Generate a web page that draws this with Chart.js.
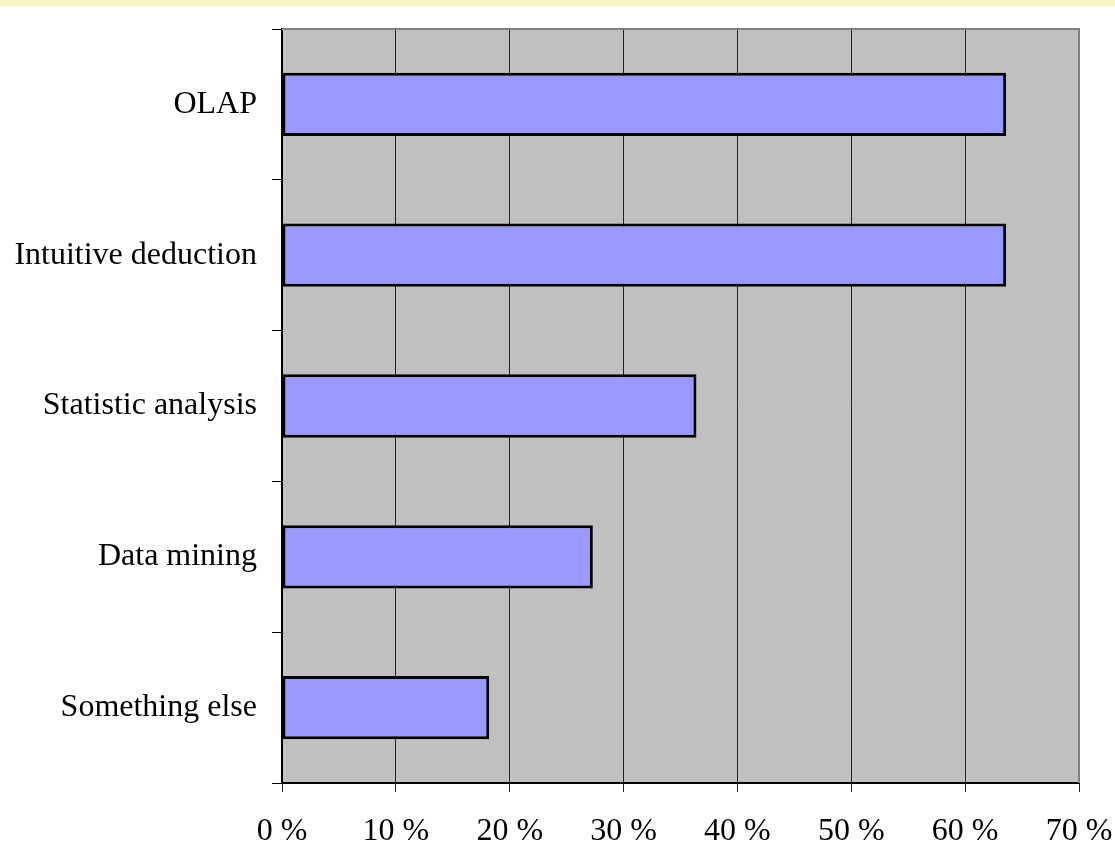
<!DOCTYPE html>
<html>
<head>
<meta charset="utf-8">
<script src="https://cdn.jsdelivr.net/npm/chart.js@4/dist/chart.umd.min.js"></script>
<style>
  html, body { margin:0; padding:0; background:#fff; }
  #wrap { width:1115px; height:847px; position:relative; }
</style>
</head>
<body>
<div id="wrap"><canvas id="grafico"></canvas></div>
<script>
// datos
const categorias = ["OLAP", "Intuitive deduction", "Statistic analysis", "Data mining", "Something else"];
const valores    = [63.6, 63.6, 36.4, 27.3, 18.2];
const ticksX     = [0, 10, 20, 30, 40, 50, 60, 70];

const FUENTE = { family: "'Liberation Serif', 'Times New Roman', serif", size: 32 };

// fondo: franja amarilla arriba + area gris del grafico
const fondoPlugin = {
  id: "fondo",
  beforeDraw(chart) {
    const { ctx, chartArea: a, width } = chart;
    ctx.save();
    ctx.fillStyle = "#fff";
    ctx.fillRect(0, 0, width, chart.height);
    ctx.fillStyle = "#F8F5C2";
    ctx.fillRect(0, 0, width, 6);
    ctx.fillStyle = "#C0C0C0";
    ctx.fillRect(a.left, a.top, a.right - a.left, a.bottom - a.top);
    ctx.restore();
  },
  afterDatasetsDraw(chart) {
    const { ctx, chartArea: a } = chart;
    ctx.save();
    ctx.strokeStyle = "#808080";
    ctx.lineWidth = 2;
    ctx.beginPath();
    ctx.moveTo(a.left, a.top);
    ctx.lineTo(a.right, a.top);
    ctx.lineTo(a.right, a.bottom);
    ctx.stroke();
    ctx.restore();
  }
};

new Chart(document.getElementById("grafico"), {
  type: "bar",
  data: {
    labels: categorias,
    datasets: [{
      data: valores,
      backgroundColor: "#9999FF",
      borderColor: "#000",
      borderWidth: 3,
      borderSkipped: false,
      categoryPercentage: 1,
      barPercentage: 0.42
    }]
  },
  options: {
    indexAxis: "y",
    responsive: true, maintainAspectRatio: false,
    animation: false,
    layout: { padding: { top: 29, right: 36, left: 0, bottom: 0 } },
    scales: {
      x: {
        min: 0, max: 70,
        afterBuildTicks: s => { s.ticks = ticksX.map(v => ({ value: v })); },
        afterFit: s => { s.height = 64; s.paddingRight = 0; s.paddingLeft = 0; },
        grid: { color: "#222", lineWidth: 1, tickLength: 9, drawTicks: true },
        border: { color: "#000", width: 2 },
        ticks: { color: "#000", font: FUENTE, padding: 20, maxRotation: 0, callback: v => v + " %" }
      },
      y: {
        afterFit: s => { s.width = 282; s.paddingTop = 0; s.paddingBottom = 0; },
        grid: { drawOnChartArea: false, tickLength: 10, color: "#000", offset: true },
        border: { color: "#000", width: 2 },
        ticks: { color: "#000", font: FUENTE, padding: 15 }
      }
    },
    plugins: {
      legend: { display: false },
      tooltip: { enabled: false }
    }
  },
  plugins: [fondoPlugin]
});
</script>
</body>
</html>
